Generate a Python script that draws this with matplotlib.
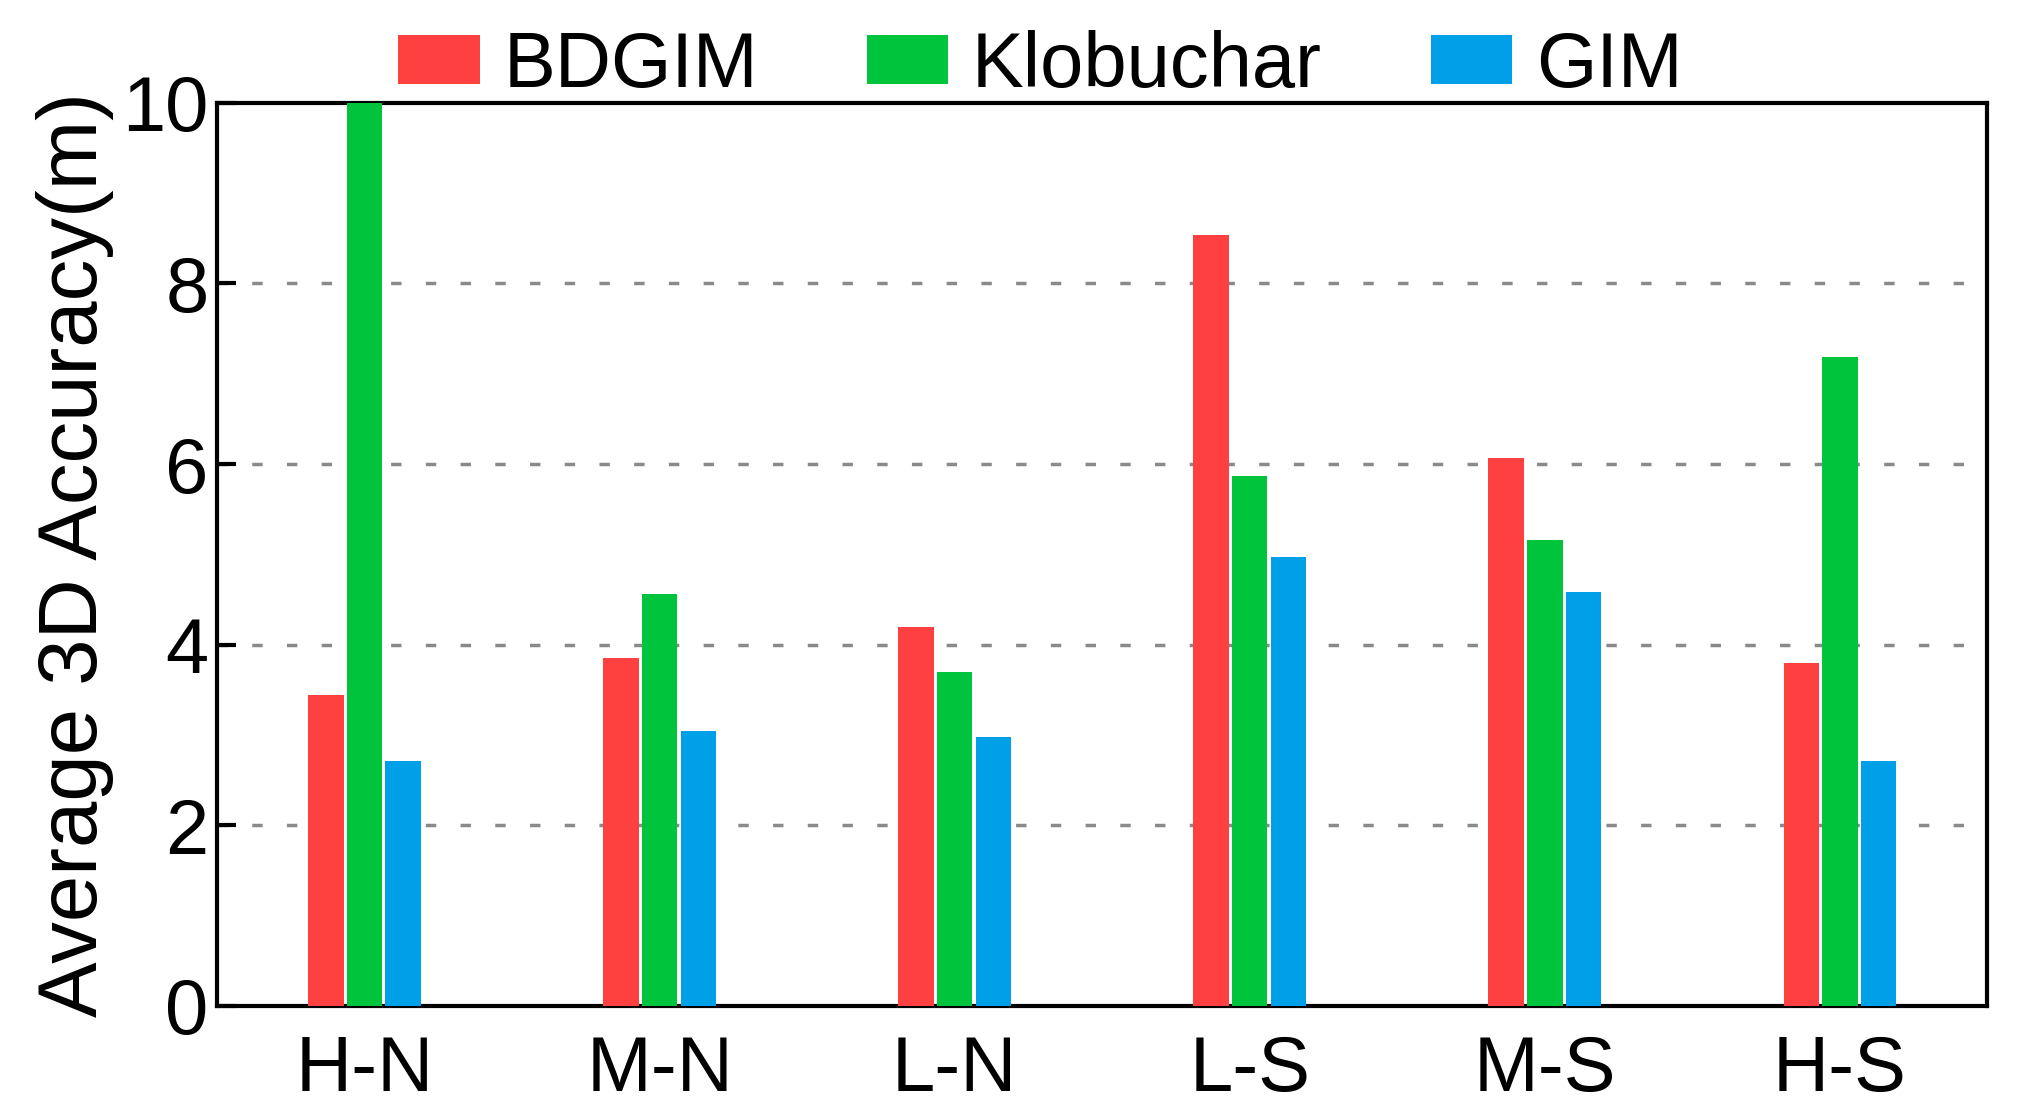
import matplotlib
matplotlib.use("Agg")
import matplotlib.pyplot as plt
import numpy as np

categories = ["H-N", "M-N", "L-N", "L-S", "M-S", "H-S"]
series_names = ["BDGIM", "Klobuchar", "GIM"]
bdgim = [3.44, 3.85, 4.20, 8.54, 6.07, 3.80]
klobuchar = [10.0, 4.56, 3.70, 5.87, 5.16, 7.19]
gim = [2.71, 3.04, 2.98, 4.97, 4.58, 2.71]
yticks = [0, 2, 4, 6, 8, 10]

colors = ["#FF4040", "#00C43C", "#00A0E9"]

plt.rcParams['font.family'] = ['Liberation Sans', 'DejaVu Sans']

fig = plt.figure(figsize=(20.28, 11.17), dpi=100)
ax = fig.add_axes([0.107, 0.0994, 0.873, 0.8086])

x = np.arange(len(categories))
width = 0.12
offsets = [-0.131, 0.0, 0.131]
for vals, off, c, name in zip([bdgim, klobuchar, gim], offsets, colors, series_names):
    ax.bar(x + off, vals, width=width, color=c, label=name, zorder=3)

ax.set_xlim(-0.5, 5.5)
ax.set_ylim(0, 10)
ax.set_yticks(yticks)
ax.set_xticks(x)
ax.set_xticklabels(categories)
for yv in [2, 4, 6, 8]:
    ax.axhline(yv, color="#8a8a8a", lw=2.5, dashes=(3, 7), zorder=1)

for s in ax.spines.values():
    s.set_linewidth(3)
ax.tick_params(axis='y', direction='in', length=14, width=3, labelsize=56, pad=6)
ax.tick_params(axis='x', length=0, labelsize=56, pad=20)
ax.set_ylabel("Average 3D Accuracy(m)", fontsize=60, labelpad=6)

ax.legend(loc='lower center', bbox_to_anchor=(0.465, 1.0), ncol=3, frameon=False,
          fontsize=56, handlelength=1.05, handleheight=0.6, handletextpad=0.3,
          columnspacing=1.4, borderaxespad=0, borderpad=0)

fig.savefig("out.png", dpi=100)
